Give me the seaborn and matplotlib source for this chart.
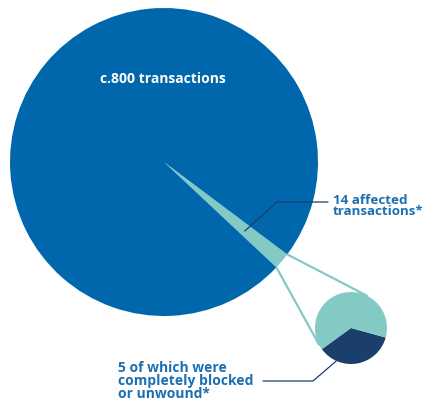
import numpy as np
import seaborn as sns
import matplotlib.pyplot as plt

# data
big_labels = ["Other transactions", "Affected transactions"]
big_values = [786, 14]
small_labels = ["Blocked or unwound", "Other affected"]
small_values = [5, 9]

big_text = "c.800 transactions"
affected_text = "14 affected\ntransactions*"
blocked_text = "5 of which were\ncompletely blocked\nor unwound*"

sns.set_theme(style="white")
plt.rcParams['font.family'] = ['Open Sans', 'DejaVu Sans']

blue = "#0067ad"
teal = "#82cac3"
navy = "#1b3f6b"
text_blue = "#1c6fb1"

fig = plt.figure(figsize=(4.25, 4.04), dpi=100)
ax = fig.add_axes([0, 0, 1, 1])

big_c = (164, 242)
big_r = 154
small_c = (351, 76)
small_r = 36

# big pie: affected slice centred at -40 deg
aff_frac = big_values[1] / sum(big_values) * 360
start = -40 - aff_frac / 2
ax.pie([big_values[1], big_values[0]], colors=[teal, blue], startangle=start,
       counterclock=True, center=big_c, radius=big_r,
       wedgeprops=dict(linewidth=0))

# small pie: blocked slice starts at -144 deg
ax.pie(small_values, colors=[navy, teal], startangle=-144, counterclock=True,
       center=small_c, radius=small_r, wedgeprops=dict(linewidth=0))

# tangent lines from slice edge to small pie
def tangent_point(p, c, r, sign):
    d = np.hypot(p[0] - c[0], p[1] - c[1])
    phi = np.arctan2(p[1] - c[1], p[0] - c[0])
    a = phi + sign * np.arccos(r / d)
    return c[0] + r * np.cos(a), c[1] + r * np.sin(a)

for ang, sign in [(start + aff_frac, -1), (start, 1)]:
    t = np.radians(ang)
    p = (big_c[0] + big_r * np.cos(t), big_c[1] + big_r * np.sin(t))
    q = tangent_point(p, small_c, small_r, sign)
    ax.plot([p[0], q[0]], [p[1], q[1]], color=teal, lw=1.6, solid_capstyle='butt')

# leader lines
t = np.radians(-40.5)
end1 = (big_c[0] + 0.69 * big_r * np.cos(t), big_c[1] + 0.69 * big_r * np.sin(t))
ax.plot([end1[0], 277, 328], [end1[1], 202, 202], color=navy, lw=0.9)
t = np.radians(-114)
end2 = (small_c[0] + small_r * np.cos(t), small_c[1] + small_r * np.sin(t))
ax.plot([end2[0], 313, 263], [end2[1], 23, 23], color=navy, lw=0.9)

ax.text(163, 325, big_text, color="white", fontsize=10, fontweight="bold",
        ha="center", va="center")
ax.text(333, 198, affected_text, color=text_blue, fontsize=9.6, fontweight="bold",
        ha="left", va="center", linespacing=0.75)
ax.text(118, 23, blocked_text, color=text_blue, fontsize=10, fontweight="bold",
        ha="left", va="center", linespacing=0.95)

ax.set_xlim(0, 425)
ax.set_ylim(0, 404)
ax.set_aspect('equal')
ax.axis('off')

plt.savefig("out.png", dpi=100)
